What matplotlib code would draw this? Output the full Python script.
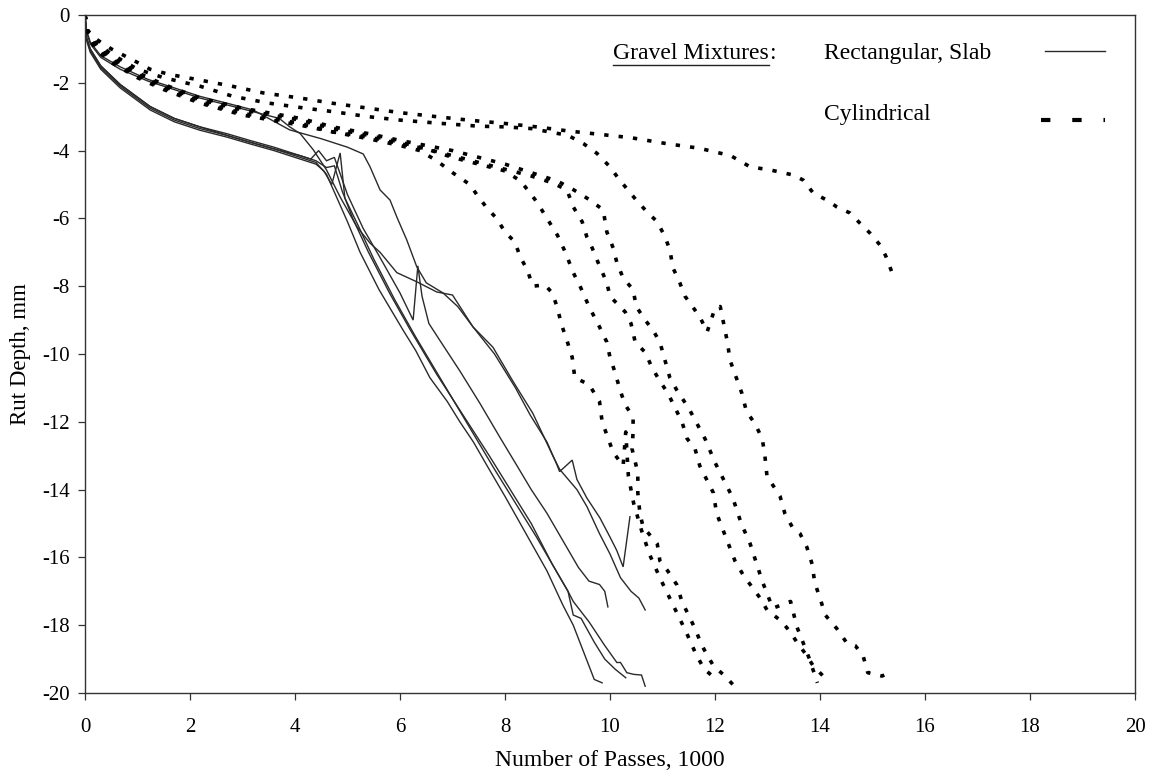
import matplotlib
matplotlib.use("Agg")
import matplotlib.pyplot as plt
from matplotlib.lines import Line2D

plt.rcParams['font.family'] = ['Liberation Serif', 'DejaVu Serif']
plt.rcParams['axes.unicode_minus'] = False

# ---------------- data (thousands of passes, rut depth mm) ----------------
# Rectangular / slab specimens (solid lines)
slab1_x = [0, 0.03, 0.1, 0.3, 0.67, 1.24, 1.7, 2.19, 2.7, 3.14, 3.6, 4.1, 4.4, 4.6, 4.8, 5.0, 5.24, 5.6, 6.06, 6.3,
           6.57, 6.9, 7.14, 7.4, 7.66, 8.0, 8.4, 8.8, 9.1, 9.3, 9.5, 9.7, 9.85]
slab1_y = [0, -0.7, -1.05, -1.55, -2.1, -2.75, -3.1, -3.35, -3.55, -3.75, -3.95, -4.2, -4.35, -4.7, -5.4, -6.1, -7.0,
           -8.1, -9.3, -9.9, -10.7, -11.4, -12.0, -12.6, -13.3, -14.2, -15.3, -16.4, -17.4, -18.0, -18.8, -19.6, -19.7]

slab2_x = [0, 0.03, 0.1, 0.3, 0.67, 1.24, 1.7, 2.19, 2.7, 3.14, 3.6, 4.1, 4.4, 4.6, 4.75, 4.9, 5.1, 5.4, 5.8, 6.2,
           6.7, 7.2, 7.7, 8.1, 8.5, 8.9, 9.2, 9.3, 9.6, 9.9, 10.13, 10.2, 10.32, 10.45, 10.6, 10.67]
slab2_y = [0, -0.65, -1.0, -1.5, -2.05, -2.7, -3.05, -3.3, -3.5, -3.7, -3.9, -4.15, -4.3, -4.5, -4.45, -5.2, -6.0,
           -7.0, -8.2, -9.3, -10.6, -11.8, -13.0, -14.0, -15.0, -16.2, -17.0, -17.3, -17.9, -18.6, -19.1, -19.1,
           -19.4, -19.45, -19.47, -19.8]

slab3_x = [0, 0.03, 0.1, 0.3, 0.67, 1.24, 1.7, 2.19, 2.7, 3.14, 3.6, 4.1, 4.4, 4.55, 4.7, 4.86, 4.95, 5.2, 5.5, 5.9,
           6.3, 6.8, 7.3, 7.8, 8.2, 8.6, 8.9, 9.2, 9.3, 9.45, 9.7, 9.9, 10.1, 10.3]
slab3_y = [0, -0.75, -1.1, -1.6, -2.15, -2.8, -3.15, -3.4, -3.6, -3.8, -4.0, -4.25, -4.4, -4.6, -5.0, -4.07, -5.4,
           -6.2, -7.2, -8.4, -9.5, -10.8, -12.1, -13.4, -14.4, -15.4, -16.2, -17.0, -17.7, -17.8, -18.5, -19.0,
           -19.3, -19.55]

slab4_x = [0, 0.03, 0.1, 0.3, 0.67, 1.24, 1.7, 2.19, 2.7, 3.14, 3.6, 4.1, 4.3, 4.45, 4.6, 4.75, 5.0, 5.3, 5.6, 6.0,
           6.25, 6.34, 6.42, 6.55, 6.76, 7.14, 7.52, 7.9, 8.23, 8.5, 8.8, 9.1, 9.4, 9.6, 9.8, 9.9, 9.96]
slab4_y = [0, -0.7, -1.0, -1.5, -2.05, -2.7, -3.05, -3.3, -3.55, -3.75, -3.95, -4.15, -4.25, -4.0, -4.3, -4.2, -5.3,
           -6.3, -7.1, -8.2, -9.0, -7.4, -8.3, -9.1, -9.6, -10.5, -11.45, -12.45, -13.3, -14.0, -14.7, -15.5,
           -16.3, -16.7, -16.8, -17.0, -17.46]

slab5_x = [0, 0.03, 0.1, 0.3, 0.67, 1.2, 1.7, 2.19, 2.7, 3.2, 3.7, 3.9, 4.1, 4.35, 4.6, 4.86, 5.18, 5.43, 5.62,
           5.94, 6.32, 6.7, 7.0, 7.39, 7.77, 8.15, 8.53, 8.91, 9.04, 9.37, 9.56, 9.8, 10.0, 10.2, 10.4, 10.55, 10.67]
slab5_y = [0, -0.5, -0.85, -1.25, -1.6, -1.95, -2.2, -2.45, -2.65, -2.85, -3.05, -3.3, -3.5, -3.98, -4.57, -5.37,
           -6.25, -6.73, -7.0, -7.6, -7.87, -8.17, -8.26, -9.2, -9.8, -10.8, -11.75, -13.0, -13.4, -14.0, -14.5,
           -15.3, -15.9, -16.6, -17.0, -17.2, -17.55]

slab6_x = [0, 0.03, 0.1, 0.3, 0.67, 1.2, 1.7, 2.19, 2.7, 3.2, 3.9, 4.5, 5.0, 5.3, 5.43, 5.62, 5.81, 5.94, 6.13,
           6.32, 6.5, 6.82, 7.1, 7.39, 7.8, 8.2, 8.48, 8.8, 8.99, 9.04, 9.28, 9.37, 9.56, 9.81, 10.0, 10.13, 10.25,
           10.38]
slab6_y = [0, -0.45, -0.8, -1.2, -1.53, -1.9, -2.15, -2.4, -2.6, -2.8, -3.39, -3.65, -3.9, -4.1, -4.48, -5.16,
           -5.46, -5.96, -6.64, -7.43, -7.9, -8.2, -8.6, -9.2, -10.0, -11.0, -11.8, -12.6, -13.27, -13.47, -13.13,
           -13.7, -14.25, -14.84, -15.4, -15.8, -16.28, -14.8]

# Cylindrical specimens (dotted lines)
cyl1_x = [0, 0.05, 0.2, 0.5, 1.0, 1.24, 1.6, 2.19, 2.8, 3.4, 4.1, 4.7, 5.4, 6.0, 6.7, 7.3, 8.0, 8.6, 9.2, 9.8,
          10.4, 11.1, 11.7, 12.3, 12.67, 13.05, 13.49, 13.68, 13.87, 14.13, 14.32, 14.57, 14.76, 14.95, 15.14,
          15.25, 15.39]
cyl1_y = [0, -0.45, -0.7, -1.0, -1.4, -1.6, -1.75, -1.92, -2.1, -2.3, -2.45, -2.6, -2.75, -2.88, -3.0, -3.1, -3.2,
          -3.3, -3.42, -3.52, -3.62, -3.8, -3.93, -4.15, -4.48, -4.57, -4.72, -4.87, -5.25, -5.46, -5.66, -5.84,
          -6.14, -6.43, -6.78, -7.1, -7.67]

cyl2_x = [0, 0.05, 0.2, 0.5, 1.0, 1.5, 2.19, 2.82, 3.5, 4.2, 4.72, 5.4, 6.0, 6.8, 7.5, 8.0, 8.5, 9.2, 9.5, 9.75,
          10.0, 10.15, 10.34, 10.5, 10.7, 10.9, 11.05, 11.14, 11.2, 11.33, 11.43, 11.71, 11.85, 12.0, 12.1, 12.23,
          12.29, 12.51, 12.6, 12.76, 12.9, 12.95, 12.99, 13.24, 13.33, 13.47, 13.62, 13.75, 13.85, 13.9, 14.0,
          14.1, 14.32, 14.5, 14.67, 14.82, 14.91, 15.18, 15.33]
cyl2_y = [0, -0.5, -0.8, -1.15, -1.6, -1.85, -2.1, -2.4, -2.6, -2.75, -2.85, -3.0, -3.1, -3.2, -3.28, -3.3, -3.35,
          -3.55, -3.8, -4.08, -4.48, -4.8, -5.16, -5.46, -5.8, -6.1, -6.55, -6.93, -7.46, -7.9, -8.3, -8.9, -9.35,
          -8.65, -8.6, -9.6, -10.2, -11.15, -11.7, -12.05, -12.5, -13.0, -13.6, -14.2, -14.7, -15.1, -15.3, -15.7,
          -16.2, -16.75, -17.2, -17.7, -18.1, -18.5, -18.6, -18.9, -19.4, -19.5, -19.4]

cyl3_x = [0, 0.05, 0.2, 0.5, 1.0, 1.5, 2.19, 3.0, 4.1, 4.72, 5.4, 6.0, 6.5, 7.0, 7.5, 8.0, 8.5, 8.9, 9.18, 9.3,
          9.47, 9.56, 9.66, 9.77, 9.94, 10.0, 10.29, 10.4, 10.48, 10.67, 10.8, 10.95, 11.1, 11.37, 11.47, 11.62,
          11.71, 11.97, 12.03, 12.13, 12.38, 12.53, 12.67, 12.86, 12.99, 13.28, 13.43, 13.56, 13.75, 13.87, 14.06]
cyl3_y = [0, -0.55, -0.9, -1.3, -1.75, -2.1, -2.5, -2.8, -3.1, -3.35, -3.55, -3.75, -3.95, -4.15, -4.35, -4.55,
          -4.75, -4.95, -5.16, -5.66, -6.1, -6.55, -6.87, -7.29, -7.9, -8.3, -8.76, -9.1, -9.65, -9.95, -10.4,
          -10.8, -11.15, -12.0, -12.5, -12.8, -13.3, -14.1, -14.7, -15.1, -16.1, -16.5, -16.8, -17.2, -17.55,
          -17.9, -18.2, -18.5, -18.9, -19.2, -19.5]

cyl4_x = [0, 0.05, 0.2, 0.5, 1.0, 1.5, 2.19, 3.0, 4.1, 4.72, 5.4, 6.0, 6.5, 7.0, 7.5, 8.0, 8.5, 9.0, 9.3, 9.62,
          9.87, 9.94, 10.06, 10.13, 10.25, 10.44, 10.5, 10.67, 10.82, 10.95, 11.05, 11.14, 11.27, 11.5, 11.81, 12.0,
          12.34, 12.5, 12.67, 12.9, 13.1, 13.44, 13.56, 13.7, 13.8, 13.95]
cyl4_y = [0, -0.5, -0.85, -1.25, -1.7, -2.05, -2.45, -2.75, -3.05, -3.3, -3.5, -3.7, -3.85, -4.0, -4.2, -4.4,
          -4.65, -4.9, -5.15, -5.46, -5.75, -6.4, -6.87, -7.3, -7.76, -8.1, -8.6, -9.0, -9.3, -9.65, -10.2, -10.7,
          -11.06, -11.6, -12.5, -13.2, -14.25, -15.0, -15.6, -16.7, -17.5, -17.3, -18.05, -18.6, -19.0, -19.7]

cyl5_x = [0, 0.05, 0.2, 0.5, 1.0, 1.5, 2.19, 3.0, 4.1, 4.72, 5.4, 6.0, 6.5, 7.0, 7.5, 8.0, 8.3, 8.6, 8.8, 9.0,
          9.15, 9.3, 9.43, 9.6, 9.8, 9.94, 10.0, 10.1, 10.19, 10.29, 10.44, 10.44, 10.42, 10.53, 10.53, 10.57,
          10.63, 10.9, 10.95, 11.1, 11.27, 11.37, 11.62, 11.75, 11.97, 12.19, 12.34]
cyl5_y = [0, -0.6, -0.95, -1.35, -1.8, -2.15, -2.55, -2.9, -3.2, -3.45, -3.6, -3.8, -3.95, -4.2, -4.4, -4.6, -4.9,
          -5.5, -6.0, -6.5, -7.0, -7.6, -8.0, -8.6, -9.2, -9.65, -10.1, -10.56, -11.06, -11.5, -11.86, -12.3,
          -12.8, -13.5, -14.1, -14.7, -15.1, -15.6, -16.1, -16.4, -16.8, -17.3, -18.1, -18.6, -19.2, -19.5, -19.75]

cyl6_x = [0, 0.05, 0.2, 0.5, 1.0, 1.5, 2.19, 3.0, 4.1, 4.72, 5.4, 6.0, 6.38, 6.7, 7.01, 7.33, 7.49, 7.66, 7.84,
          8.0, 8.19, 8.29, 8.42, 8.53, 8.76, 8.9, 8.99, 9.08, 9.18, 9.28, 9.33, 9.6, 9.8, 9.85, 10.06, 10.25, 10.3,
          10.35, 10.45, 10.6, 10.75, 10.95, 11.2, 11.45, 11.65, 11.8, 11.95]
cyl6_y = [0, -0.6, -1.0, -1.4, -1.85, -2.2, -2.6, -2.95, -3.25, -3.45, -3.65, -3.85, -4.0, -4.3, -4.66, -5.0,
          -5.36, -5.7, -6.0, -6.4, -6.7, -7.14, -7.5, -8.0, -7.96, -8.2, -8.6, -9.15, -9.6, -10.1, -10.7, -10.9,
          -11.4, -12.0, -12.9, -13.3, -12.3, -13.6, -14.4, -15.2, -15.9, -16.6, -17.4, -18.2, -18.9, -19.3, -19.5]

slab_series = [(slab1_x, slab1_y), (slab2_x, slab2_y), (slab3_x, slab3_y),
               (slab4_x, slab4_y), (slab5_x, slab5_y), (slab6_x, slab6_y)]
cyl_series = [(cyl1_x, cyl1_y), (cyl2_x, cyl2_y), (cyl3_x, cyl3_y),
              (cyl4_x, cyl4_y), (cyl5_x, cyl5_y), (cyl6_x, cyl6_y)]

x_ticks = [0, 2, 4, 6, 8, 10, 12, 14, 16, 18, 20]
y_ticks = [0, -2, -4, -6, -8, -10, -12, -14, -16, -18, -20]

legend_title = "Gravel Mixtures"
legend_labels = ["Rectangular, Slab", "Cylindrical"]

# ---------------- figure ----------------
fig = plt.figure(figsize=(11.6, 7.75), dpi=100)
ax = fig.add_axes([85 / 1160, 1 - 693 / 775, 1050 / 1160, 678 / 775])

solid_style = dict(color='#2a2a2a', lw=1.0, solid_joinstyle='miter')
dot_style = dict(color='black', lw=2.6, linestyle=(0, (1.2, 2.8)), dash_capstyle='butt')

for xs, ys in slab_series:
    ax.plot(xs, ys, **solid_style)
for xs, ys in cyl_series:
    ax.plot(xs, ys, **dot_style)

ax.set_xlim(0, 20)
ax.set_ylim(-20, 0)
ax.set_xticks(x_ticks)
ax.set_yticks(y_ticks)
ax.set_xticklabels([str(v) for v in x_ticks])
ax.set_yticklabels([str(v) for v in y_ticks])
ax.tick_params(axis='both', direction='out', length=5, width=0.9, color='#333333',
               labelsize=15, pad=6)
ax.tick_params(axis='x', pad=13)
for sp in ax.spines.values():
    sp.set_linewidth(1.0)
    sp.set_color('#333333')

ax.set_xlabel("Number of Passes, 1000", fontsize=17, labelpad=9)
ax.set_ylabel("Rut Depth, mm", fontsize=16.5, labelpad=8)

# legend drawn manually, as in the original
fs_leg = 17
t_title = ax.text(0.503, 0.943, legend_title, transform=ax.transAxes, fontsize=fs_leg,
                  ha='left', va='center')
fig.canvas.draw()
r = fig.canvas.get_renderer()
bb = t_title.get_window_extent(renderer=r)
colon_x = ax.transAxes.inverted().transform((bb.x1, bb.y0))[0]
ax.text(colon_x, 0.943, ":", transform=ax.transAxes, fontsize=fs_leg, ha='left', va='center')
ux0, uy = fig.transFigure.inverted().transform((bb.x0, bb.y0 - 1))
ux1, _ = fig.transFigure.inverted().transform((bb.x1, bb.y0 - 1))
fig.add_artist(Line2D([ux0, ux1], [uy, uy], transform=fig.transFigure, color='#222222', lw=1.0))

ax.text(0.704, 0.943, legend_labels[0], transform=ax.transAxes, fontsize=fs_leg, ha='left', va='center')
ax.text(0.704, 0.853, legend_labels[1], transform=ax.transAxes, fontsize=fs_leg, ha='left', va='center')
ax.add_line(Line2D([0.9143, 0.9714], [0.947, 0.947], transform=ax.transAxes, **solid_style))
ax.add_line(Line2D([0.9105, 0.9714], [0.845, 0.845], transform=ax.transAxes,
                   color='black', lw=3.0, linestyle=(0, (2.25, 5.25)), dash_capstyle='butt'))

fig.savefig("out.png", dpi=100)
